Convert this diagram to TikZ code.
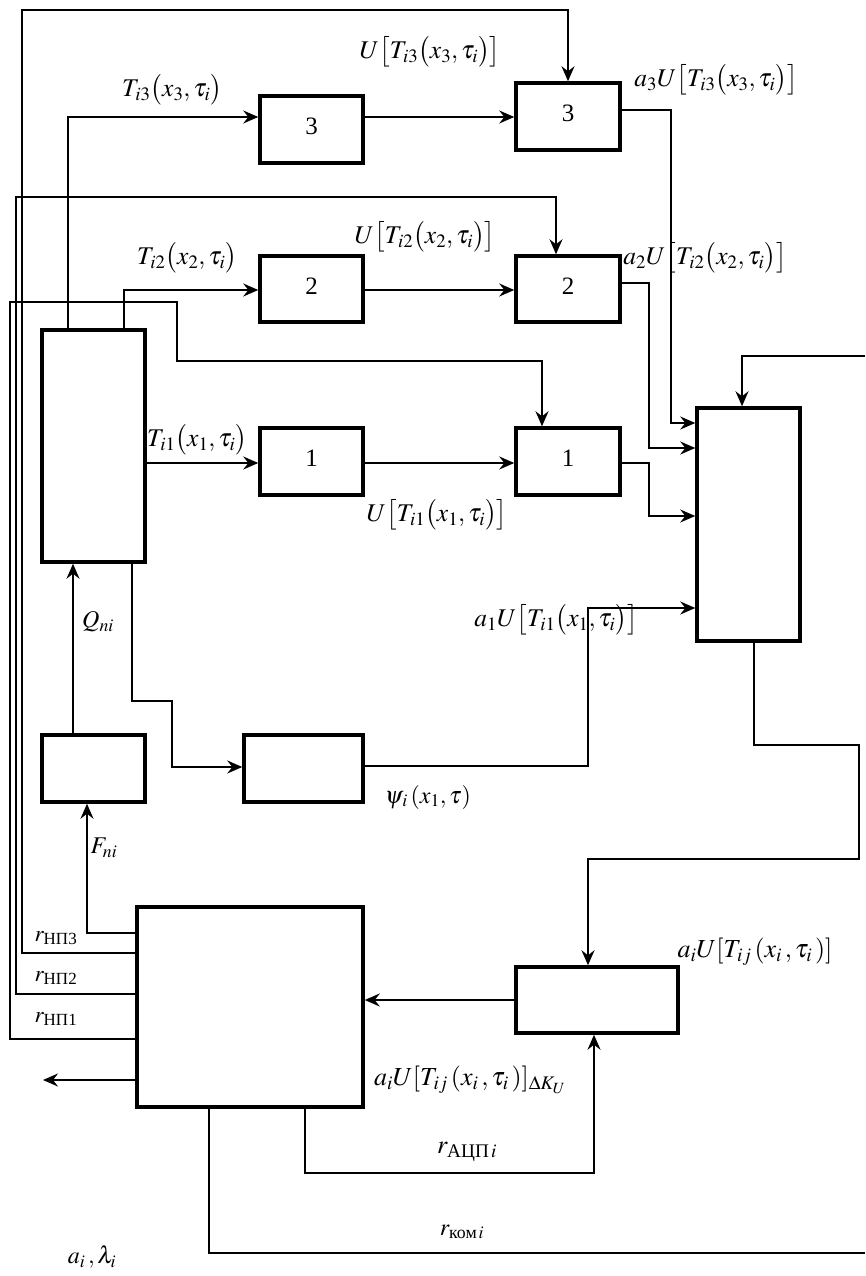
\documentclass[tikz,border=0pt]{standalone}
\usepackage{amsmath}
\usepackage{mathptmx}
\usepackage{fontspec}
\setmainfont{Liberation Serif}
\usetikzlibrary{arrows.meta}
\begin{document}
\begin{tikzpicture}[x=1pt,y=-1pt,
  box/.style={draw, line width=3.5pt, inner sep=0pt, font=\fontsize{25}{29}\selectfont},
  ln/.style={line width=1.5pt},
  ar/.style={ln, -{Stealth[length=15pt,width=13pt,inset=5pt]}},
  lbl/.style={inner sep=0pt, font=\fontsize{24}{28}\selectfont},
  wlbl/.style={inner sep=0pt, font=\fontsize{26}{30}\selectfont},
  blbl/.style={inner sep=0pt, font=\fontsize{25.5}{30}\selectfont},
  rlbl/.style={inner sep=0pt, font=\fontsize{23}{27}\selectfont}]
\useasboundingbox (0,0) rectangle (865,1276);

% boxes
\node[box, minimum width=103pt, minimum height=67pt] (b3)  at (311.5,129.5) {\raisebox{7pt}{3}};
\node[box, minimum width=104pt, minimum height=67pt] (b3b) at (568,116.5) {\raisebox{7pt}{3}};
\node[box, minimum width=103pt, minimum height=66pt] (b2)  at (311.5,289) {\raisebox{6pt}{2}};
\node[box, minimum width=104pt, minimum height=66pt] (b2b) at (568,289) {\raisebox{6pt}{2}};
\node[box, minimum width=103pt, minimum height=67pt] (b1)  at (311.5,461.5) {\raisebox{6pt}{1}};
\node[box, minimum width=104pt, minimum height=67pt] (b1b) at (568,461.5) {\raisebox{6pt}{1}};
\node[box, minimum width=103pt, minimum height=232pt] (obj) at (93.5,446) {};
\node[box, minimum width=103pt, minimum height=233pt] (sum) at (748.5,524.5) {};
\node[box, minimum width=103pt, minimum height=67pt] (src) at (93.5,768.5) {};
\node[box, minimum width=119pt, minimum height=67pt] (psi) at (303.5,768.5) {};
\node[box, minimum width=162pt, minimum height=66pt] (adc) at (597,1000) {};
\node[box, minimum width=226pt, minimum height=200pt] (ctrl) at (250,1007) {};

\coordinate (inR) at (865,356);
\coordinate (outB) at (865,1253);
\coordinate (outL) at (43,1080);

% feedback lines from control unit
\draw[ar] (ctrl.west |- 0,953) -- (22,953) -- (22,10) -| (b3b.north);
\draw[ar] (ctrl.west |- 0,994) -- (16,994) -- (16,197) -- (556,197) -- (556,0 |- b2b.north);
\draw[ar] (ctrl.west |- 0,1039) -- (10,1039) -- (10,302) -- (177,302) -- (177,361) -- (542,361) -- (542,0 |- b1b.north);

% object outputs
\draw[ar] (68,0 |- obj.north) -- (68,117) -- (b3.west |- 0,117);
\draw[ar] (124,0 |- obj.north) -- (124,290) -- (b2.west |- 0,290);
\draw[ar] (obj.east |- 0,463) -- (b1.west |- 0,463);

\draw[ar] (b3.east |- 0,117) -- (b3b.west |- 0,117);
\draw[ar] (b2.east |- 0,290) -- (b2b.west |- 0,290);
\draw[ar] (b1.east |- 0,463) -- (b1b.west |- 0,463);

\draw[ar] (b3b.east |- 0,110) -- (671,110) -- (671,423) -- (sum.west |- 0,423);
\draw[ar] (b2b.east |- 0,283) -- (649,283) -- (649,448) -- (sum.west |- 0,448);
\draw[ar] (b1b.east |- 0,463) -- (649,463) -- (649,516) -- (sum.west |- 0,516);
\draw[ar] (inR) -- (742,356) -- (742,0 |- sum.north);
\draw[ar] (psi.east |- 0,766) -- (588,766) -- (588,608) -- (sum.west |- 0,608);

\draw[ar] (754,0 |- sum.south) -- (754,745) -- (859,745) -- (859,859) -- (588,859) -- (588,0 |- adc.north);
\draw[ar] (adc.west |- 0,1000) -- (ctrl.east |- 0,1000);
\draw[ar] (305,0 |- ctrl.south) -- (305,1173) -- (594,1173) -- (594,0 |- adc.south);
\draw[ln] (209,0 |- ctrl.south) -- (209,1253) -- (outB);
\draw[ar] (ctrl.west |- 0,1080) -- (outL);

\draw[ar] (ctrl.west |- 0,933) -- (87,933) -- (87,0 |- src.south);
\draw[ar] (73,0 |- src.north) -- (73,0 |- obj.south);
\draw[ar] (132,0 |- obj.south) -- (132,701) -- (172,701) -- (172,767) -- (psi.west |- 0,767);

% labels
\node[blbl] (l1) at (172,90) {$T_{\kern1pt i3}\bigl(x_3,\tau_i\bigr)$};
\node[blbl] (l2) at (430,52) {$U\bigl[T_{\kern1pt i3}\bigl(x_3,\tau_i\bigr)\bigr]$};
\node[blbl] (l3) at (716,80) {$a_3U\bigl[T_{\kern1pt i3}\bigl(x_3,\tau_i\bigr)\bigr]$};
\node[blbl] (l4) at (187,258) {$T_{\kern1pt i2}\bigl(x_2,\tau_i\bigr)$};
\node[blbl] (l5) at (425,237) {$U\bigl[T_{\kern1pt i2}\bigl(x_2,\tau_i\bigr)\bigr]$};
\node[blbl] (l6) at (705,258) {$a_2U\bigl[T_{\kern1pt i2}\bigl(x_2,\tau_i\bigr)\bigr]$};
\node[blbl] (l7) at (197,440) {$T_{\kern1pt i1}\bigl(x_1,\tau_i\bigr)$};
\node[blbl] (l8) at (437,515) {$U\bigl[T_{\kern1pt i1}\bigl(x_1,\tau_i\bigr)\bigr]$};
\node[blbl] (l9) at (556,620) {$a_1U\bigl[T_{\kern1pt i1}\bigl(x_1,\tau_i\bigr)\bigr]$};
\node[lbl] (l10) at (428,797) {$\psi_{\kern1pt i}\,(x_1,\tau)$};
\node[lbl] (l11) at (98,622) {$Q_{ni}$};
\node[lbl] (l12) at (104,848) {$F_{ni}$};
\node[rlbl] (l13) at (56,938) {$r_{\text{НП3}}$};
\node[rlbl] (l14) at (56,978) {$r_{\text{НП2}}$};
\node[rlbl] (l15) at (56,1019) {$r_{\text{НП1}}$};
\node[wlbl] (l16) at (755,952) {$a_iU[T_{\kern1pt ij}\,(x_i\,,\tau_i\,)]$};
\node[wlbl] (l17) at (470,1080) {$a_iU[T_{\kern1pt ij}\,(x_i\,,\tau_i\,)]_{\Delta K_U}$};
\node[wlbl] (l18) at (467,1152) {$r_{\text{АЦП}\,i}$};
\node[lbl] (l19) at (462,1232) {$r_{\text{ком}\,i}$};
\node[lbl] (l20) at (92,1257) {$a_i\,,\lambda_i$};
\end{tikzpicture}
\end{document}
